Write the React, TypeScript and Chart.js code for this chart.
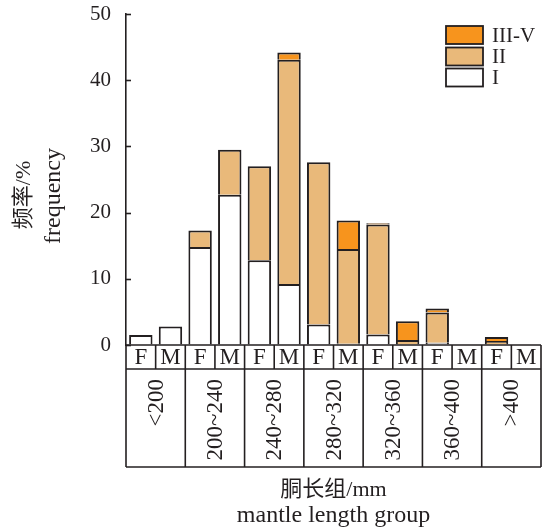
import React, { useEffect, useRef } from 'react';
import { Chart, registerables } from 'chart.js';

Chart.register(...registerables);

const groups = ['<200', '200~240', '240~280', '280~320', '320~360', '360~400', '>400'];
const sexes = ['F', 'M'];
const categories = groups.flatMap((g) => sexes.map((s) => `${g} ${s}`));
const stageI = [1.5, 2.8, 14.8, 22.7, 12.8, 9.2, 3.1, 0.2, 1.6, 0, 0.35, 0, 0, 0];
const stageII = [0, 0, 2.5, 6.8, 14.2, 33.9, 24.5, 14.3, 16.6, 0.75, 4.55, 0, 0.6, 0];
const stageIIIV = [0, 0, 0, 0, 0, 1.1, 0, 4.3, 0.2, 2.85, 0.6, 0, 0.6, 0];
const yTicks = [0, 10, 20, 30, 40, 50];
const yTitle = ['频率/%', 'frequency'];
const xTitle = ['胴长组/mm', 'mantle length group'];

const INK = '#231f20';
const SERIF = '"Liberation Serif", "Times New Roman", "Noto Sans CJK SC", serif';
const CJK = '"Liberation Serif", "Noto Sans CJK SC", serif';

const decorPlugin = {
  id: 'decor',
  afterDraw(chart: any) {
    const { ctx, chartArea } = chart;
    const x = chart.scales.x;
    const y = chart.scales.y;
    const slot = x.getPixelForValue(1) - x.getPixelForValue(0);
    const left = x.getPixelForValue(0) - slot / 2;
    const top = chartArea.bottom;
    const row1 = top + 24;
    const row2 = top + 122;
    const n = categories.length;
    const right = left + slot * n;

    ctx.save();
    ctx.strokeStyle = INK;
    ctx.lineWidth = 1.6;
    yTicks.forEach((v) => {
      const py = Math.round(y.getPixelForValue(v)) + 0.5;
      ctx.beginPath();
      ctx.moveTo(chartArea.left, py);
      ctx.lineTo(chartArea.left + 5, py);
      ctx.stroke();
    });

    [top, row1, row2].forEach((py) => {
      ctx.beginPath();
      ctx.moveTo(left, py);
      ctx.lineTo(right, py);
      ctx.stroke();
    });
    for (let i = 0; i <= n; i++) {
      const px = left + slot * i;
      ctx.beginPath();
      ctx.moveTo(px, top);
      ctx.lineTo(px, i % 2 === 0 ? row2 : row1);
      ctx.stroke();
    }

    ctx.fillStyle = INK;
    ctx.font = `23px ${SERIF}`;
    ctx.textAlign = 'center';
    ctx.textBaseline = 'middle';
    categories.forEach((c, i) => {
      const s = sexes[i % 2];
      ctx.fillText(s, x.getPixelForValue(i), (top + row1) / 2 + 1);
    });

    groups.forEach((g, gi) => {
      const cx = left + slot * (gi * 2 + 1);
      ctx.save();
      ctx.translate(cx + 1, row1 + 10);
      ctx.rotate(-Math.PI / 2);
      ctx.textAlign = 'right';
      ctx.textBaseline = 'middle';
      ctx.font = `23px ${SERIF}`;
      ctx.fillText(g, 0, 0);
      ctx.restore();
    });

    ctx.textAlign = 'center';
    ctx.textBaseline = 'alphabetic';
    ctx.font = `22px ${CJK}`;
    const xc = (left + right) / 2;
    ctx.fillText(xTitle[0], xc, 496);
    ctx.font = `24px ${SERIF}`;
    ctx.fillText(xTitle[1], xc, 522);

    ctx.font = `22px ${CJK}`;
    ctx.textAlign = 'center';
    ctx.textBaseline = 'middle';
    ctx.save();
    ctx.translate(24, 195);
    ctx.rotate(-Math.PI / 2);
    ctx.fillText(yTitle[0], 0, 0);
    ctx.restore();
    ctx.save();
    ctx.font = `24px ${SERIF}`;
    ctx.translate(53, 196);
    ctx.rotate(-Math.PI / 2);
    ctx.textBaseline = 'alphabetic';
    ctx.fillText(yTitle[1], 0, 7);
    ctx.restore();

    const ds = chart.data.datasets.slice().reverse();
    const boxX = 446;
    const boxW = 37;
    const boxH = 18;
    const ys = [26, 47.5, 68.5];
    ds.forEach((d: any, i: number) => {
      const by = ys[i];
      ctx.fillStyle = d.backgroundColor;
      ctx.fillRect(boxX, by, boxW, boxH);
      ctx.strokeStyle = INK;
      ctx.lineWidth = 1.8;
      ctx.strokeRect(boxX, by, boxW, boxH);
      ctx.fillStyle = INK;
      ctx.font = `21px ${SERIF}`;
      ctx.textAlign = 'left';
      ctx.textBaseline = 'middle';
      ctx.fillText(d.label, 492, by + boxH / 2 + 1);
    });
    ctx.restore();
  },
};

export default function App() {
  const ref = useRef<HTMLCanvasElement | null>(null);
  useEffect(() => {
    if (!ref.current) return;
    const mk = (label: string, data: number[], color: string) => ({
      label,
      data,
      backgroundColor: color,
      borderColor: INK,
      borderWidth: 2,
      borderSkipped: 'start',
      barPercentage: 0.79,
      categoryPercentage: 1,
    });
    const chart = new Chart(ref.current, {
      type: 'bar',
      data: {
        labels: categories,
        datasets: [
          mk('I', stageI, '#ffffff'),
          mk('II', stageII, '#E9B97A'),
          mk('III-V', stageIIIV, '#F7941D'),
        ] as any,
      },
      options: {
        responsive: false,
        animation: false,
        layout: { padding: { left: 66, right: 2, top: 14, bottom: 186 } },
        plugins: { legend: { display: false }, tooltip: { enabled: false } },
        scales: {
          x: { stacked: true, display: false },
          y: {
            stacked: true,
            min: 0,
            max: 50,
            afterFit: (scale: any) => {
              scale.width = 60;
              scale.paddingTop = 0;
              scale.paddingBottom = 0;
            },
            afterBuildTicks: (scale: any) => {
              scale.ticks = yTicks.map((v) => ({ value: v }));
            },
            grid: { display: true, drawOnChartArea: false, drawTicks: false },
            border: { display: true, color: INK, width: 1.6 },
            ticks: {
              padding: 15,
              color: INK,
              font: { family: SERIF, size: 21 },
            },
          },
        },
      },
      plugins: [decorPlugin],
    });
    return () => chart.destroy();
  }, []);
  return (
    <div style={{ position: 'fixed', left: 0, top: 0, width: 543, height: 531, background: '#fff' }}>
      <canvas ref={ref} width={543} height={531} />
    </div>
  );
}
